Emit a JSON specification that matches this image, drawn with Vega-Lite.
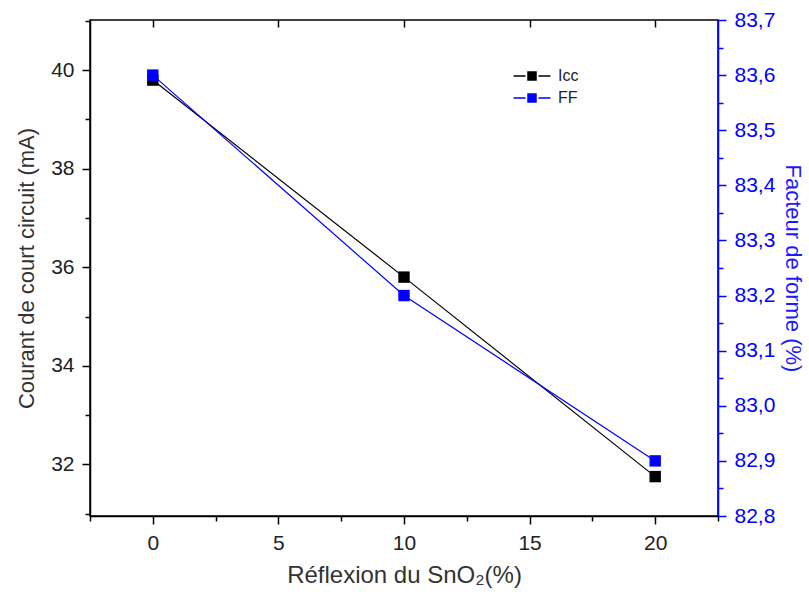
{
  "$schema": "https://vega.github.io/schema/vega-lite/v6.json",
  "width": 628,
  "height": 496,
  "autosize": "none",
  "padding": {"left": 90, "top": 20, "right": 91, "bottom": 82},
  "background": "white",
  "config": {
    "font": "Liberation Sans",
    "view": {"stroke": "black", "strokeWidth": 1.5},
    "axis": {
      "grid": false,
      "domainColor": "black",
      "domainWidth": 1.5,
      "tickColor": "black",
      "tickWidth": 1.5,
      "labelFontSize": 21,
      "titleFontSize": 22,
      "labelColor": "#222222",
      "titleColor": "#333333",
      "titleFontWeight": "normal",
      "labelPadding": 6
    }
  },
  "data": {
    "values": [
      {"x": 0, "Icc": 39.8, "FF": 83.6},
      {"x": 10, "Icc": 35.8, "FF": 83.2},
      {"x": 20, "Icc": 31.75, "FF": 82.9}
    ]
  },
  "layer": [
    {
      "encoding": {
        "x": {
          "field": "x",
          "type": "quantitative",
          "scale": {"domain": [-2.5, 22.5], "nice": false, "zero": false},
          "axis": {
            "orient": "bottom",
            "values": [-2.5, 0, 2.5, 5, 7.5, 10, 12.5, 15, 17.5, 20, 22.5],
            "tickSize": {"condition": {"test": "datum.value % 5 == 0", "value": 8}, "value": 5},
            "labelExpr": "datum.value % 5 == 0 ? datum.label : ''",
            "labelPadding": 8,
            "title": "Réflexion du SnO₂(%)",
            "titleFontSize": 24,
            "titlePadding": 10
          }
        },
        "y": {
          "field": "Icc",
          "type": "quantitative",
          "scale": {"domain": [30.95, 41.02], "nice": false, "zero": false},
          "axis": {
            "orient": "left",
            "values": [31, 32, 33, 34, 35, 36, 37, 38, 39, 40, 41],
            "tickSize": {"condition": {"test": "datum.value % 2 == 0", "value": 8}, "value": 5},
            "labelExpr": "datum.value % 2 == 0 ? datum.label : ''",
            "labelPadding": 8,
            "title": "Courant de court circuit (mA)",
            "titlePadding": 12
          }
        }
      },
      "layer": [
        {
          "mark": {"type": "line", "strokeWidth": 1.2},
          "encoding": {
            "color": {
              "datum": "Icc",
              "type": "nominal",
              "scale": {"domain": ["Icc", "FF"], "range": ["#000000", "#0000ff"]},
              "legend": {
                "title": null,
                "orient": "none",
                "legendX": 434,
                "legendY": 48,
                "padding": 0,
                "symbolType": "M-3.7,0H-1.3M1.3,0H3.7M-0.8,-0.8H0.8V0.8H-0.8Z",
                "symbolSize": 100,
                "symbolStrokeWidth": 1.5,
                "labelOffset": 18,
                "labelFontSize": 16,
                "labelColor": "#222222",
                "rowPadding": 6,
                "encode": {
                  "symbols": {
                    "update": {
                      "fill": {"scale": "color", "field": "value"},
                      "stroke": {"scale": "color", "field": "value"},
                      "opacity": {"value": 1}
                    }
                  }
                }
              }
            }
          }
        },
        {
          "mark": {"type": "point", "shape": "square", "filled": true, "size": 130, "opacity": 1},
          "encoding": {
            "color": {"datum": "Icc", "type": "nominal"}
          }
        }
      ]
    },
    {
      "encoding": {
        "x": {
          "field": "x",
          "type": "quantitative",
          "axis": {
            "orient": "top",
            "values": [0, 5, 10, 15, 20],
            "labels": false,
            "domain": false,
            "offset": -7,
            "tickSize": 7,
            "title": null
          }
        },
        "y": {
          "field": "FF",
          "type": "quantitative",
          "scale": {"domain": [82.8, 83.7], "nice": false, "zero": false},
          "axis": {
            "orient": "right",
            "values": [82.8, 82.85, 82.9, 82.95, 83.0, 83.05, 83.1, 83.15, 83.2, 83.25, 83.3, 83.35, 83.4, 83.45, 83.5, 83.55, 83.6, 83.65, 83.7],
            "tickSize": {"condition": {"test": "round(datum.value*100) % 10 == 0", "value": 8}, "value": 5},
            "labelExpr": "round(datum.value*100) % 10 == 0 ? replace(format(datum.value, '.1f'), '.', ',') : ''",
            "domainColor": "#0000ff",
            "tickColor": "#0000ff",
            "labelColor": "#0000ff",
            "titleColor": "#1a1aff",
            "labelPadding": 8,
            "title": "Facteur de forme (%)",
            "titlePadding": 6
          }
        }
      },
      "layer": [
        {
          "mark": {"type": "line", "strokeWidth": 1.2},
          "encoding": {"color": {"datum": "FF", "type": "nominal"}}
        },
        {
          "mark": {"type": "point", "shape": "square", "filled": true, "size": 130, "opacity": 1},
          "encoding": {"color": {"datum": "FF", "type": "nominal"}}
        }
      ]
    }
  ],
  "resolve": {"scale": {"y": "independent"}, "axis": {"x": "independent"}}
}
